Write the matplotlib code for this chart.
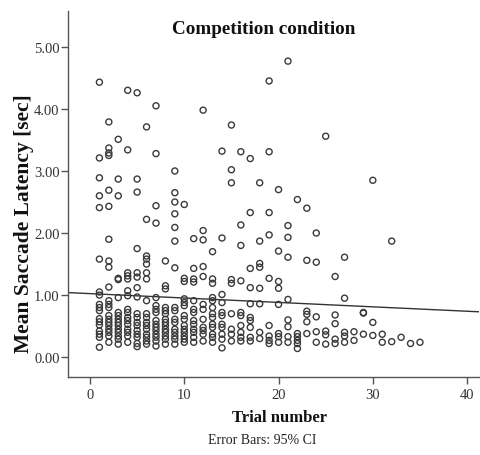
import matplotlib
matplotlib.use("Agg")
import matplotlib.pyplot as plt
import numpy as np

plt.rcParams['font.family'] = ['Liberation Serif', 'DejaVu Serif']

trial_numbers = [1, 2, 3, 4, 5, 6, 7, 8, 9, 10, 11, 12, 13, 14, 15, 16, 17, 18,
                 19, 20, 21, 22, 23, 24, 25, 26, 27, 28, 29, 30, 31, 32, 33, 34, 35]

latency_by_trial = [
    [4.43, 3.21, 2.89, 2.60, 2.41, 1.58, 1.05, 1.00, 0.85, 0.80, 0.75, 0.62, 0.57, 0.52, 0.42, 0.37, 0.32, 0.16],
    [3.79, 3.37, 3.29, 3.25, 2.69, 2.43, 1.90, 1.55, 1.45, 1.13, 0.91, 0.85, 0.80, 0.67, 0.61, 0.56, 0.51, 0.45, 0.40, 0.34, 0.24],
    [3.51, 2.87, 2.60, 1.27, 1.25, 0.96, 0.72, 0.67, 0.61, 0.56, 0.51, 0.45, 0.40, 0.34, 0.29, 0.21],
    [4.30, 3.34, 1.36, 1.31, 1.26, 1.07, 0.99, 0.77, 0.72, 0.64, 0.59, 0.53, 0.45, 0.40, 0.34, 0.24],
    [4.26, 2.87, 2.66, 1.75, 1.36, 1.29, 1.12, 0.97, 0.70, 0.64, 0.56, 0.51, 0.43, 0.37, 0.32, 0.22, 0.17],
    [3.71, 2.22, 1.63, 1.58, 1.50, 1.36, 1.26, 0.91, 0.70, 0.64, 0.56, 0.51, 0.45, 0.37, 0.32, 0.26, 0.21],
    [4.05, 3.28, 2.44, 2.16, 0.96, 0.83, 0.77, 0.72, 0.59, 0.53, 0.48, 0.43, 0.37, 0.32, 0.26, 0.18],
    [1.55, 1.15, 1.10, 0.80, 0.75, 0.70, 0.61, 0.56, 0.51, 0.45, 0.40, 0.34, 0.29, 0.21],
    [3.00, 2.65, 2.50, 2.31, 2.09, 1.87, 1.44, 0.80, 0.75, 0.61, 0.56, 0.45, 0.40, 0.34, 0.29, 0.21],
    [2.46, 1.27, 1.22, 0.94, 0.88, 0.83, 0.67, 0.61, 0.51, 0.45, 0.40, 0.34, 0.29, 0.24],
    [1.91, 1.43, 1.26, 1.21, 0.91, 0.77, 0.72, 0.59, 0.53, 0.45, 0.40, 0.32, 0.24],
    [3.98, 2.04, 1.89, 1.46, 1.30, 0.85, 0.77, 0.61, 0.48, 0.43, 0.37, 0.26],
    [1.70, 1.26, 1.19, 0.96, 0.91, 0.80, 0.70, 0.64, 0.53, 0.48, 0.37, 0.32, 0.24],
    [3.32, 1.92, 1.01, 0.88, 0.72, 0.67, 0.53, 0.48, 0.37, 0.29, 0.15],
    [3.74, 3.02, 2.81, 1.25, 1.19, 0.70, 0.45, 0.37, 0.26],
    [3.31, 2.13, 1.80, 1.23, 0.72, 0.67, 0.51, 0.40, 0.32, 0.26],
    [3.20, 2.33, 1.43, 1.12, 0.86, 0.64, 0.59, 0.48, 0.32, 0.26],
    [2.81, 1.87, 1.51, 1.45, 1.11, 0.86, 0.40, 0.30],
    [4.45, 3.31, 2.33, 1.97, 1.27, 0.51, 0.34, 0.27, 0.22],
    [2.70, 1.71, 1.22, 1.11, 0.85, 0.38, 0.33, 0.24],
    [4.77, 2.12, 1.93, 1.61, 0.93, 0.60, 0.49, 0.33, 0.24],
    [2.54, 0.38, 0.33, 0.27, 0.22, 0.14],
    [2.40, 1.56, 0.74, 0.69, 0.57, 0.38],
    [2.00, 1.53, 0.65, 0.41, 0.24],
    [3.56, 0.42, 0.36, 0.21],
    [1.30, 0.68, 0.54, 0.29, 0.22],
    [1.61, 0.95, 0.40, 0.34, 0.24],
    [0.41, 0.27],
    [0.71, 0.72, 0.37],
    [2.85, 0.56, 0.35],
    [0.37, 0.24],
    [1.87, 0.25],
    [0.32],
    [0.22],
    [0.24],
]

fit_intercept = 1.024
fit_slope = -0.0071

x_ticks = [0, 10, 20, 30, 40]
y_ticks = [0.0, 1.0, 2.0, 3.0, 4.0, 5.0]
y_tick_labels = ["0.00", "1.00", "2.00", "3.00", "4.00", "5.00"]

title = "Competition condition"
x_label = "Trial number"
y_label = "Mean Saccade Latency [sec]"
footnote = "Error Bars: 95% CI"

xs, ys = [], []
for t, vals in zip(trial_numbers, latency_by_trial):
    for v in vals:
        xs.append(t)
        ys.append(v)

fig = plt.figure(figsize=(4.8, 4.56), dpi=100)
ax = fig.add_axes([0.1417, 0.171, 0.856, 0.803])

xmin, xmax = -2.33, 41.25
ax.set_xlim(xmin, xmax)
ax.set_ylim(-0.32, 5.58)

ax.scatter(xs, ys, s=19, facecolors='none', edgecolors='#3a3a3a', linewidths=1.0, zorder=3)

lx = np.array([xmin, xmax])
ax.plot(lx, fit_intercept + fit_slope * lx, color='#333333', lw=1.0, zorder=2)

for s in ['top', 'right']:
    ax.spines[s].set_visible(False)
for s in ['left', 'bottom']:
    ax.spines[s].set_color('#555555')
    ax.spines[s].set_linewidth(1.0)

ax.set_xticks(x_ticks)
ax.set_xticklabels([str(v) for v in x_ticks])
ax.set_yticks(y_ticks)
ax.set_yticklabels(y_tick_labels)
ax.tick_params(axis='both', direction='out', length=5, width=1.0, color='#555555',
               labelsize=10.5, labelcolor='#333333')
ax.tick_params(axis='x', pad=3)
ax.tick_params(axis='y', pad=1)

fig.text(264 / 480, 1 - 30 / 456, title, ha='center', va='center',
         fontsize=13.8, fontweight='bold', color='#111111')
fig.text(279 / 480, 1 - 418 / 456, x_label, ha='center', va='center',
         fontsize=12, fontweight='bold', color='#111111')
fig.text(262 / 480, 1 - 441 / 456, footnote, ha='center', va='center',
         fontsize=10, color='#222222')
fig.text(24 / 480, 1 - 224 / 456, y_label, ha='center', va='center', rotation=90,
         fontsize=15.5, fontweight='bold', color='#111111')

fig.savefig("out.png", dpi=100)
